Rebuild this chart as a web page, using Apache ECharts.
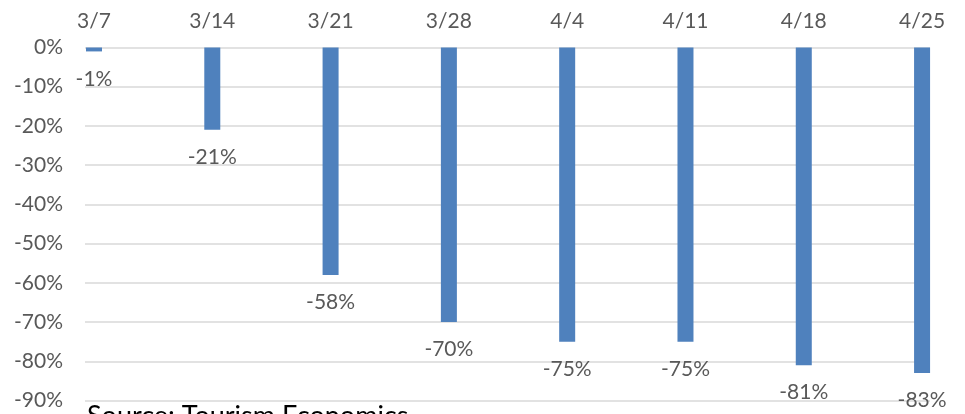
<!DOCTYPE html>
<html>
<head>
<meta charset="utf-8">
<script src="https://cdn.jsdelivr.net/npm/echarts@6/dist/echarts.min.js"></script>
<style>
  html, body { margin: 0; padding: 0; background: #fff; }
  #chart { width: 965px; height: 414px; }
</style>
</head>
<body>
<div id="chart"></div>
<script>
const weeks = ['3/7', '3/14', '3/21', '3/28', '4/4', '4/11', '4/18', '4/25'];
const changePct = [-1, -21, -58, -70, -75, -75, -81, -83];
const yTicks = [0, -10, -20, -30, -40, -50, -60, -70, -80, -90];

const chart = echarts.init(document.getElementById('chart'));
const font = 'Lato, "Open Sans", sans-serif';
const grey = '#595959';

chart.setOption({
  animation: false,
  backgroundColor: '#fff',
  grid: { left: 85, right: 35, top: 47.5, bottom: 13.5 },
  xAxis: {
    type: 'value',
    position: 'top',
    min: -0.076,
    max: 7.067,
    axisLine: { show: false },
    axisTick: { show: false },
    splitLine: { show: false },
    axisLabel: {
      customValues: weeks.map((w, i) => i),
      formatter: v => weeks[Math.round(v)],
      color: grey,
      fontFamily: font,
      fontSize: 21,
      margin: 16
    }
  },
  yAxis: {
    type: 'value',
    min: yTicks[yTicks.length - 1],
    max: yTicks[0],
    interval: 10,
    axisLine: { show: false },
    axisTick: { show: false },
    splitLine: { lineStyle: { color: '#d9d9d9', width: 1.5 } },
    axisLabel: {
      formatter: '{value}%',
      color: grey,
      fontFamily: font,
      fontSize: 21,
      margin: 22
    }
  },
  series: [{
    type: 'bar',
    barWidth: 16,
    data: changePct.map((v, i) => [i, v]),
    itemStyle: { color: '#4f81bd' },
    label: {
      show: true,
      position: 'bottom',
      distance: 17,
      formatter: p => p.value[1] + '%',
      color: grey,
      fontFamily: font,
      fontSize: 21
    }
  }],
  graphic: [{
    type: 'text',
    left: 87,
    top: 403,
    style: {
      text: 'Source: Tourism Economics',
      fill: '#000',
      font: '27px ' + font
    }
  }]
});
</script>
</body>
</html>
